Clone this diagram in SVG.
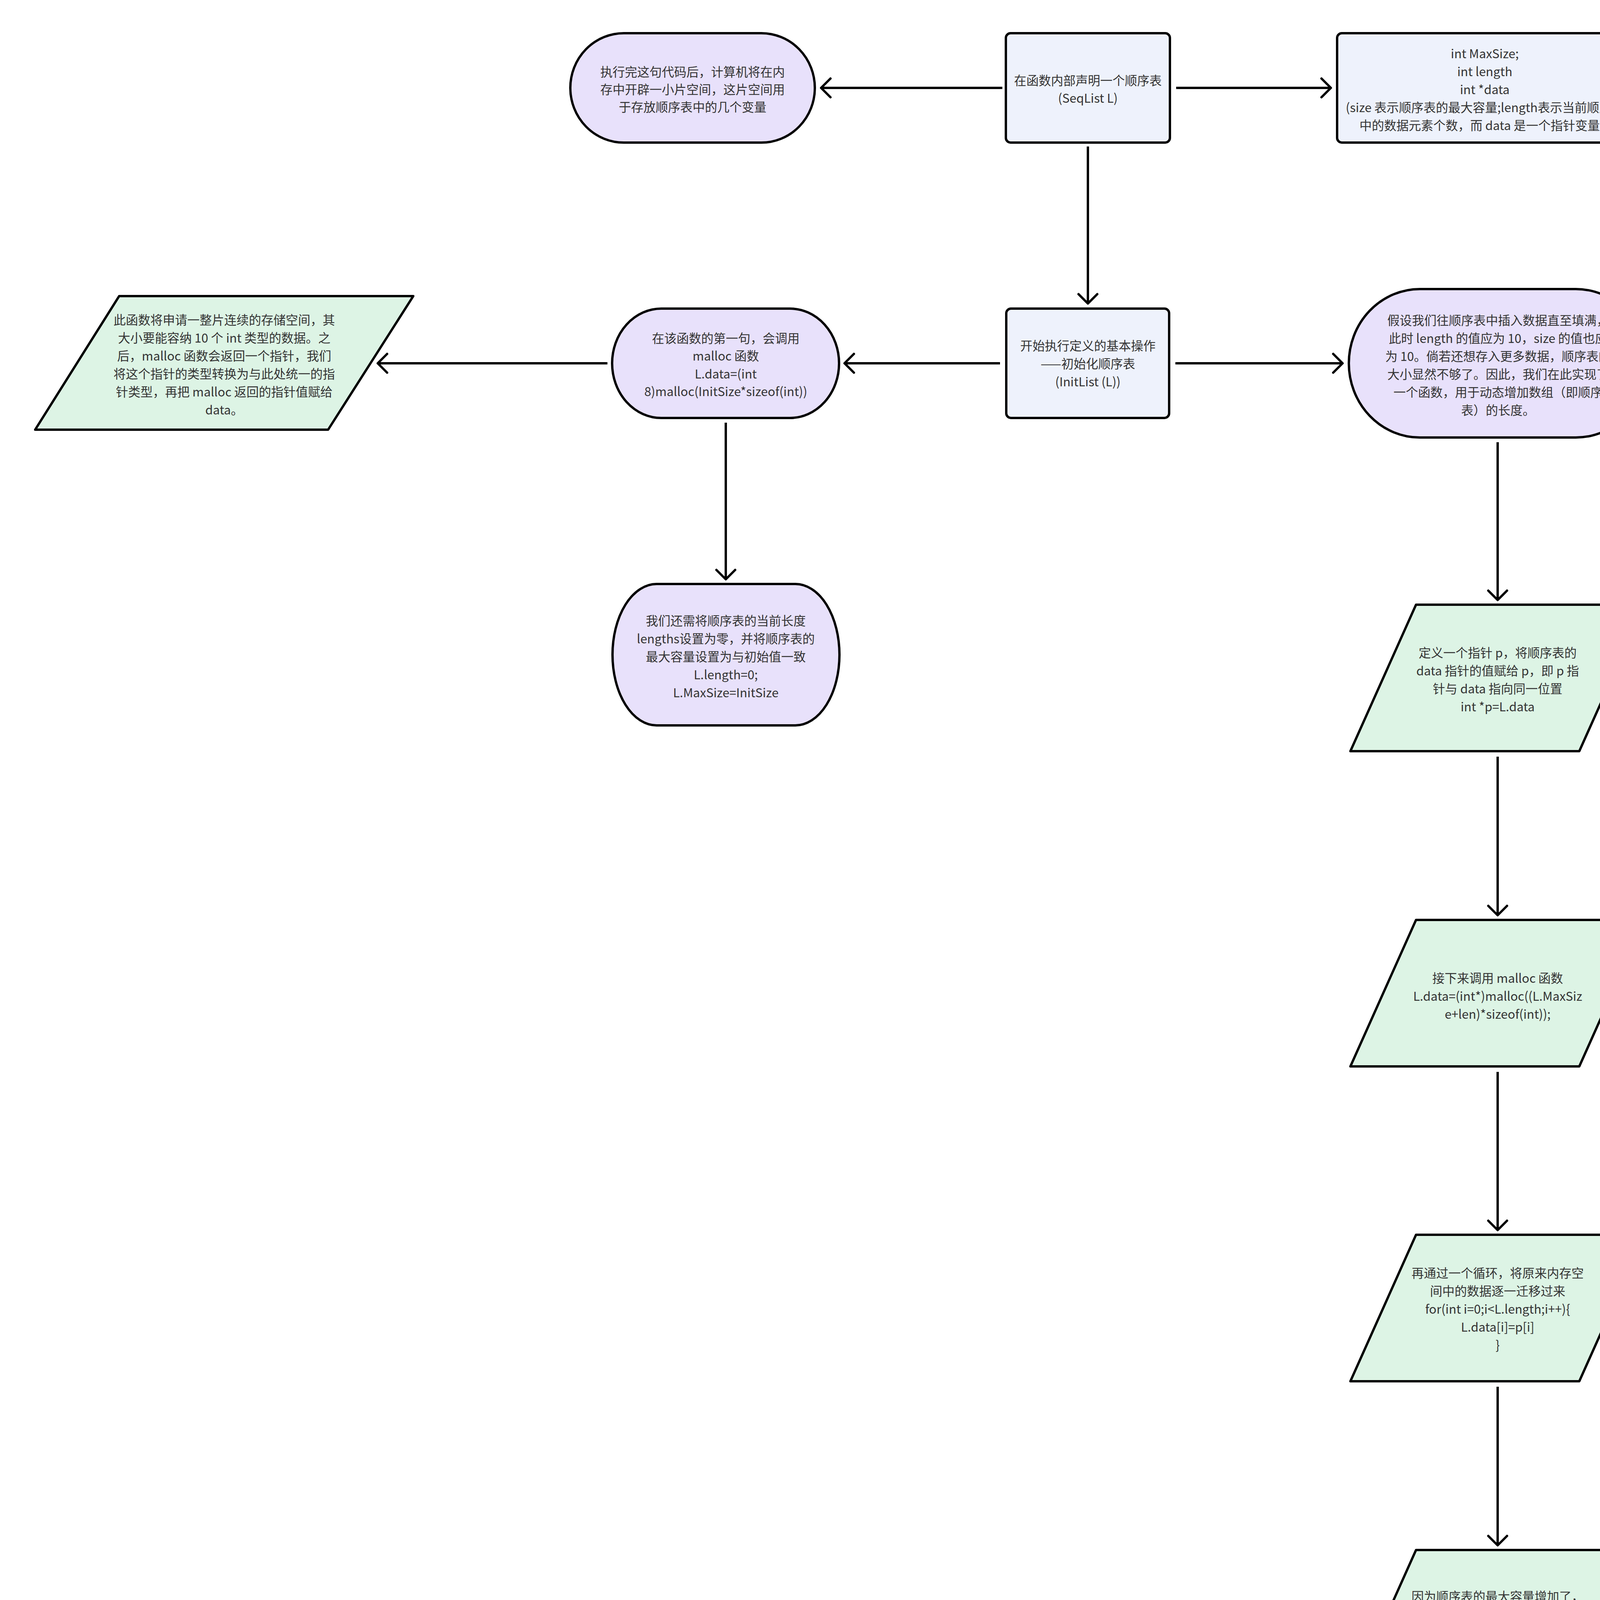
<svg xmlns="http://www.w3.org/2000/svg" width="5489" height="6046" viewBox="0 0 5489 6046">
<style>
.n{stroke:#000;stroke-width:6;stroke-linejoin:round}
.stad{fill:#e8e1fb}
.box{fill:#eef2fc}
.para{fill:#ddf4e5}
.trap{fill:#f3f3f3}
.t{font-family:"Noto Sans CJK SC","Noto Sans",sans-serif;font-size:31.5px;fill:#333;text-anchor:middle}
.c{stroke:#000;stroke-width:6;fill:none;marker-end:url(#ah)}
.wm{font-family:"Liberation Sans","Noto Sans CJK SC",sans-serif;font-size:95px;fill:#ededed;stroke:#c8c8c8;stroke-width:1.5}
</style>
<defs>
<marker id="ah" viewBox="-32 -32 40 64" markerWidth="40" markerHeight="64" markerUnits="userSpaceOnUse" refX="0" refY="0" orient="auto">
<path d="M-24,-24 L0,0 L-24,24" fill="none" stroke="#000" stroke-width="6" stroke-linecap="round" stroke-linejoin="round"/>
</marker>
</defs>
<rect width="5489" height="6046" fill="#fff"/>

<g id="connectors">
<path class="c" d="M2566,225 L2102,225"/>
<path class="c" d="M3011,225 L3407,225"/>
<path class="c" d="M2785,375 L2785,777"/>
<path class="c" d="M2560,930 L2162,930"/>
<path class="c" d="M3009,930 L3437,930"/>
<path class="c" d="M1555,930 L967,930"/>
<path class="c" d="M1858,1082 L1858,1483"/>
<path class="c" d="M3834,1132 L3834,1536"/>
<path class="c" d="M3834,1937 L3834,2343"/>
<path class="c" d="M3834,2744 L3834,3149"/>
<path class="c" d="M3834,3550 L3834,3956"/>
<path class="c" d="M3834,4357 L3834,4763"/>
<path class="c" d="M3834,5164 L3834,5569"/>
<path class="c" d="M4141,2543 L4690,2543"/>
</g>

<g id="node-a">
<rect class="n stad" x="1460" y="85" width="626" height="280" rx="137" ry="140"/>
<text class="t"><tspan x="1773" y="196">执行完这句代码后，计算机将在内</tspan><tspan x="1773" y="241">存中开辟一小片空间，这片空间用</tspan><tspan x="1773" y="286">于存放顺序表中的几个变量</tspan></text>
</g>

<g id="node-b">
<rect class="n box" x="2575" y="85" width="420" height="280" rx="12"/>
<text class="t"><tspan x="2785" y="218">在函数内部声明一个顺序表</tspan><tspan x="2785" y="263">(SeqList L)</tspan></text>
</g>

<g id="node-c">
<rect class="n box" x="3423" y="85" width="756" height="280" rx="12"/>
<text class="t"><tspan x="3801" y="149">int MaxSize;</tspan><tspan x="3801" y="195">int length</tspan><tspan x="3801" y="241">int *data</tspan><tspan x="3801" y="287">(size 表示顺序表的最大容量;length表示当前顺序表</tspan><tspan x="3801" y="333">中的数据元素个数，而 data 是一个指针变量。)</tspan></text>
</g>

<g id="node-d">
<rect class="n box" x="2576" y="790" width="417" height="280" rx="12"/>
<text class="t"><tspan x="2785" y="897">开始执行定义的基本操作</tspan><tspan x="2785" y="943">——初始化顺序表</tspan><tspan x="2785" y="989">(InitList (L))</tspan></text>
</g>

<g id="node-e">
<rect class="n stad" x="1567" y="790" width="581" height="280" rx="126" ry="140"/>
<text class="t"><tspan x="1858" y="878">在该函数的第一句，会调用</tspan><tspan x="1858" y="923">malloc 函数</tspan><tspan x="1858" y="969">L.data=(int</tspan><tspan x="1858" y="1014">8)malloc(InitSize*sizeof(int))</tspan></text>
</g>

<g id="node-f">
<path class="n para" d="M305,758 L1058,758 L840,1100 L90,1100 Z"/>
<text class="t"><tspan x="574" y="831">此函数将申请一整片连续的存储空间，其</tspan><tspan x="574" y="877">大小要能容纳 10 个 int 类型的数据。之</tspan><tspan x="574" y="923">后，malloc 函数会返回一个指针，我们</tspan><tspan x="574" y="969">将这个指针的类型转换为与此处统一的指</tspan><tspan x="574" y="1015">针类型，再把 malloc 返回的指针值赋给</tspan><tspan x="574" y="1061">data。</tspan></text>
</g>

<g id="node-g">
<rect class="n stad" x="1568" y="1495" width="581" height="362" rx="113" ry="181"/>
<text class="t"><tspan x="1858" y="1601">我们还需将顺序表的当前长度</tspan><tspan x="1858" y="1647">lengths设置为零，并将顺序表的</tspan><tspan x="1858" y="1693">最大容量设置为与初始值一致</tspan><tspan x="1858" y="1739">L.length=0;</tspan><tspan x="1858" y="1785">L.MaxSize=InitSize</tspan></text>
</g>

<g id="node-h">
<rect class="n stad" x="3453" y="740" width="763" height="380" rx="182" ry="190"/>
<text class="t"><tspan x="3835" y="832">假设我们往顺序表中插入数据直至填满，</tspan><tspan x="3835" y="878">此时 length 的值应为 10，size 的值也应</tspan><tspan x="3835" y="924">为 10。倘若还想存入更多数据，顺序表的</tspan><tspan x="3835" y="970">大小显然不够了。因此，我们在此实现了</tspan><tspan x="3835" y="1016">一个函数，用于动态增加数组（即顺序</tspan><tspan x="3835" y="1062">表）的长度。</tspan></text>
</g>

<g id="node-i">
<path class="n para" d="M3625,1548 L4211,1548 L4043,1923 L3457,1923 Z"/>
<text class="t"><tspan x="3834" y="1683">定义一个指针 p，将顺序表的</tspan><tspan x="3834" y="1729">data 指针的值赋给 p，即 p 指</tspan><tspan x="3834" y="1775">针与 data 指向同一位置</tspan><tspan x="3834" y="1821">int *p=L.data</tspan></text>
</g>

<g id="node-j">
<path class="n para" d="M3625,2355 L4211,2355 L4043,2730 L3457,2730 Z"/>
<text class="t"><tspan x="3834" y="2516">接下来调用 malloc 函数</tspan><tspan x="3834" y="2562">L.data=(int*)malloc((L.MaxSiz</tspan><tspan x="3834" y="2608">e+len)*sizeof(int));</tspan></text>
</g>

<g id="node-k">
<path class="n trap" d="M4769,2355 L5273,2355 L5398,2730 L4645,2730 Z"/>
<text class="t"><tspan x="5019" y="2421">该函数的作用是申请一整片内存</tspan><tspan x="5019" y="2467">空间，这片空间的大小要能容纳</tspan><tspan x="5019" y="2512">当前所有数据元素，并且还能再</tspan><tspan x="5019" y="2558">多存储 5 个新的数据元素。当</tspan><tspan x="5019" y="2603">然，这需要乘以每个数据元素的</tspan><tspan x="5019" y="2649">大小 sizeof(element type)，即</tspan><tspan x="5019" y="2694">要使用 sizeof 这个操作符。这</tspan></text>
</g>

<g id="node-l">
<path class="n para" d="M3625,3161 L4211,3161 L4043,3536 L3457,3536 Z"/>
<text class="t"><tspan x="3834" y="3271">再通过一个循环，将原来内存空</tspan><tspan x="3834" y="3317">间中的数据逐一迁移过来</tspan><tspan x="3834" y="3363">for(int i=0;i&lt;L.length;i++){</tspan><tspan x="3834" y="3409">L.data[i]=p[i]</tspan><tspan x="3834" y="3455">}</tspan></text>
</g>

<g id="node-m">
<path class="n para" d="M3625,3968 L4211,3968 L4043,4343 L3457,4343 Z"/>
<text class="t"><tspan x="3834" y="4099">因为顺序表的最大容量增加了，</tspan><tspan x="3838" y="4145">所以我们要将size的值加5，使</tspan><tspan x="3834" y="4191">其变为15</tspan><tspan x="3838" y="4237">L.MaxSize=L.MaxSize+len;</tspan></text>
</g>

<g id="node-n">
<path class="n para" d="M3625,4775 L4211,4775 L4043,5150 L3457,5150 Z"/>
<text class="t"><tspan x="3834" y="4908">调用free函数，它会释放p指针</tspan><tspan x="3834" y="4954">所指向的整片存储内存空间，将</tspan><tspan x="3834" y="5000">其归还给系统</tspan><tspan x="3834" y="5046">free9p0</tspan></text>
</g>

<g id="node-o">
<path class="n para" d="M3624,5581 L4211,5581 L4047,5956 L3456,5956 Z"/>
<text class="t"><tspan x="3835" y="5669">于P变量是函数的局部变量，当</tspan><tspan x="3835" y="5715">函数执行结束后，存储P变量的</tspan><tspan x="3835" y="5761">内存空间会被系统自动回收。这</tspan><tspan x="3835" y="5807">样，通过malloc就实现了动态</tspan><tspan x="3835" y="5853">数据扩展，也就是顺序表的扩</tspan><tspan x="3835" y="5899">展。</tspan></text>
</g>

<text class="wm" x="4427" y="5995" textLength="1055" lengthAdjust="spacingAndGlyphs">CSDN @三次拒绝王俊凯</text>
</svg>
